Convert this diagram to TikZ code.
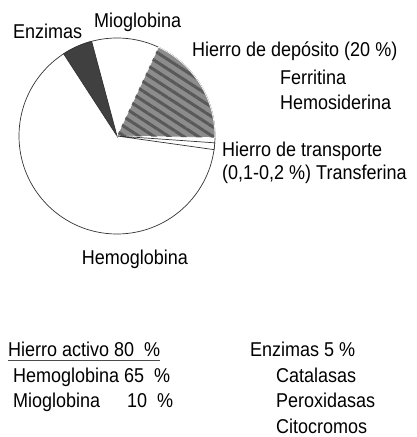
\documentclass[tikz,border=0pt]{standalone}
\usepackage{fontspec}
\setmainfont{Liberation Sans}[FakeStretch=0.9]
\usetikzlibrary{positioning,patterns.meta}
\tikzset{
    lbl/.style={
        anchor=base west,
        inner sep=0pt,
        font=\fontsize{20}{22}\selectfont,
    },
    slice/.style={
        draw=black!80,
        line width=0.7pt,
    },
    enzslice/.style={
        slice,
        fill=black!75,
    },
    depslice/.style={
        slice,
        draw=white,
        fill=black!45,
    },
}

\begin{document}
\begin{tikzpicture}[x=1pt,y=1pt]
    \useasboundingbox (0,0) rectangle (417,437);

    % Pie and slices
    \coordinate (C) at (117,301);
    \draw[slice, fill=white] (C) circle (98pt);
    \draw[enzslice] (C) -- ++(105:98pt) arc[start angle=105, end angle=123, radius=98pt] -- cycle;
    \draw[depslice] (C) -- ++(-1:98pt) arc[start angle=-1, end angle=65, radius=98pt] -- cycle;
    \path[pattern={Lines[angle=-33, distance=8pt, line width=3pt]}, pattern color=black!65]
        (C) -- ++(-1:97pt) arc[start angle=-1, end angle=65, radius=97pt] -- cycle;
    \draw[slice, fill=white] (C) -- ++(-8:98pt) arc[start angle=-8, end angle=-4, radius=98pt] -- cycle;

    % Labels round the pie
    \node[lbl] (enz) at (13,398) {Enzimas};
    \node[lbl] (mio) at (94,409) {Mioglobina};
    \node[lbl] (dep) at (192,380) {Hierro de depósito (20 \%)};
    \node[lbl] (fer) at (280,352) {Ferritina};
    \node[lbl] (hms) at (280,327) {Hemosiderina};
    \node[lbl] (tra) at (222,280) {Hierro de transporte};
    \node[lbl] (trf) at (222,257) {(0,1-0,2 \%) Transferina};
    \node[lbl, anchor=base] (hem) at (135,172) {Hemoglobina};

    % Legend below
    \node[lbl] (act) at (8,80) {Hierro activo 80\ \ \%};
    \draw[black!70, line width=0.6pt] ([yshift=-3pt]act.base west) -- ([yshift=-3pt]act.base east);
    \node[lbl] (hem2) at (13,54) {Hemoglobina 65\ \ \%};
    \node[lbl] (mio2) at (13,29) {Mioglobina\hspace{27pt}10\ \ \%};
    \node[lbl] (enz2) at (250,80) {Enzimas 5 \%};
    \node[lbl] (cat) at (276,54) {Catalasas};
    \node[lbl] (per) at (276,29) {Peroxidasas};
    \node[lbl] (cit) at (276,4) {Citocromos};
\end{tikzpicture}
\end{document}
